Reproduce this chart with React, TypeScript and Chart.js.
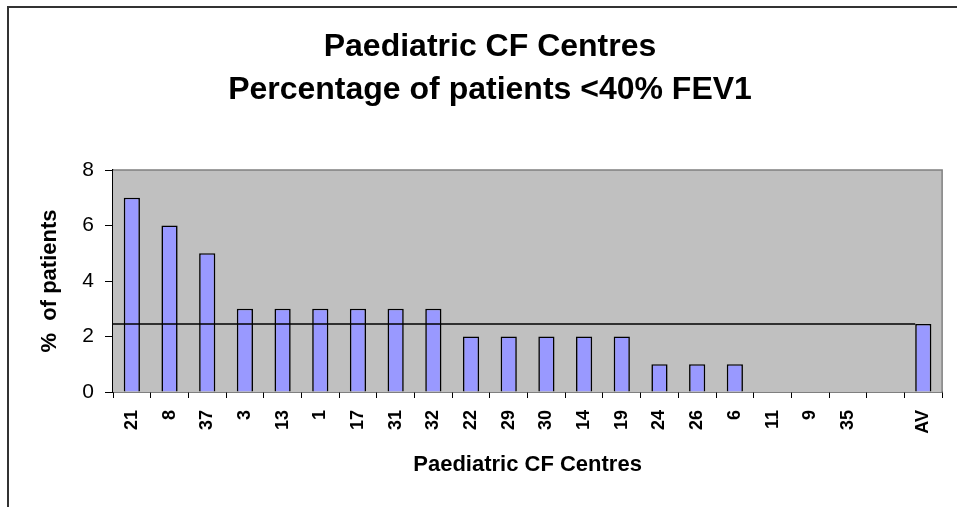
import React, { useEffect, useRef } from "react";
import { Chart, registerables } from "chart.js";

Chart.register(...registerables);

const TITLE_LINES = ["Paediatric CF Centres", "Percentage of patients <40% FEV1"];
const Y_TITLE = "%  of patients";
const X_TITLE = "Paediatric CF Centres";
const CENTRES = ["21", "8", "37", "3", "13", "1", "17", "31", "32", "22", "29", "30", "14", "19", "24", "26", "6", "11", "9", "35", "", "AV"];
const PERCENTAGES = [7, 6, 5, 3, 3, 3, 3, 3, 3, 2, 2, 2, 2, 2, 1, 1, 1, 0, 0, 0, null, 2.45];
const AVERAGE = 2.45;
const Y_MIN = 0;
const Y_MAX = 8;
const Y_STEP = 2;

const FONT = "'Liberation Sans', Arial, Helvetica, sans-serif";

const plotPlugin = {
  id: "plotDecor",
  beforeDatasetsDraw(chart: any) {
    const { ctx, chartArea } = chart;
    const { left, top, right, bottom } = chartArea;
    ctx.save();
    ctx.fillStyle = "#C0C0C0";
    ctx.fillRect(left, top, right - left, bottom - top);
    ctx.strokeStyle = "#808080";
    ctx.lineWidth = 1.5;
    ctx.beginPath();
    ctx.moveTo(left, top);
    ctx.lineTo(right, top);
    ctx.lineTo(right, bottom);
    ctx.stroke();
    ctx.restore();
  },
  afterDatasetsDraw(chart: any) {
    const { ctx, chartArea, scales } = chart;
    const meta = chart.getDatasetMeta(0);
    const avBar = meta.data[meta.data.length - 1];
    const y = scales.y.getPixelForValue(AVERAGE);
    const endX = avBar.x - avBar.width / 2;
    ctx.save();
    ctx.strokeStyle = "#000";
    ctx.lineWidth = 1.5;
    ctx.beginPath();
    ctx.moveTo(chartArea.left, y);
    ctx.lineTo(endX, y);
    ctx.stroke();
    ctx.restore();
  },
};

export default function App() {
  const canvasRef = useRef<HTMLCanvasElement | null>(null);

  useEffect(() => {
    document.body.style.margin = "0";
    document.body.style.background = "#fff";
    const canvas = canvasRef.current;
    if (!canvas) return;
    const chart = new Chart(canvas, {
      type: "bar",
      data: {
        labels: CENTRES,
        datasets: [
          {
            data: PERCENTAGES as any,
            backgroundColor: "#9999FF",
            borderColor: "#000",
            borderWidth: 1.6,
            categoryPercentage: 1,
            barPercentage: 0.43,
          },
        ],
      },
      options: {
        animation: false,
        responsive: false,
        devicePixelRatio: 1,
        layout: { padding: { left: 28, right: 5, top: 0, bottom: 0 } },
        plugins: {
          legend: { display: false },
          tooltip: { enabled: false },
          title: {
            display: true,
            text: TITLE_LINES,
            color: "#000",
            font: { family: FONT, size: 32, weight: "bold", lineHeight: 1.344 },
            padding: { top: 25.5, bottom: 58.5 },
          },
        },
        scales: {
          x: {
            offset: true,
            afterFit(scale: any) {
              scale.height = 115;
            },
            grid: {
              display: true,
              drawOnChartArea: false,
              drawTicks: true,
              tickLength: 6,
              color: "#000",
              lineWidth: 1,
            },
            border: { display: true, color: "#000", width: 1.5 },
            ticks: {
              autoSkip: false,
              minRotation: 90,
              maxRotation: 90,
              padding: 12,
              color: "#000",
              font: { family: FONT, size: 18, weight: "bold" },
            },
            title: {
              display: true,
              text: X_TITLE,
              color: "#000",
              font: { family: FONT, size: 22, weight: "bold", lineHeight: 1.2 },
              padding: { top: 0, bottom: 29 },
            },
          },
          y: {
            min: Y_MIN,
            max: Y_MAX,
            afterFit(scale: any) {
              scale.width = 85;
            },
            grid: {
              display: true,
              drawOnChartArea: false,
              drawTicks: true,
              tickLength: 8,
              color: "#000",
              lineWidth: 1,
            },
            border: { display: true, color: "#000", width: 1.5 },
            ticks: {
              stepSize: Y_STEP,
              padding: 11,
              color: "#000",
              font: { family: FONT, size: 21 },
            },
            title: {
              display: true,
              text: Y_TITLE,
              color: "#000",
              font: { family: FONT, size: 22, weight: "bold", lineHeight: 1.2 },
              padding: { top: 9, bottom: 0 },
            },
          },
        },
      },
      plugins: [plotPlugin],
    });
    return () => chart.destroy();
  }, []);

  return (
    <div style={{ position: "relative", width: 957, height: 507, background: "#fff" }}>
      <div
        style={{
          position: "absolute",
          left: 7,
          top: 6,
          right: 0,
          bottom: 0,
          borderTop: "2px solid #333",
          borderLeft: "2px solid #333",
        }}
      />
      <canvas ref={canvasRef} width={957} height={507} style={{ position: "absolute", left: 0, top: 0, display: "block" }} />
    </div>
  );
}
